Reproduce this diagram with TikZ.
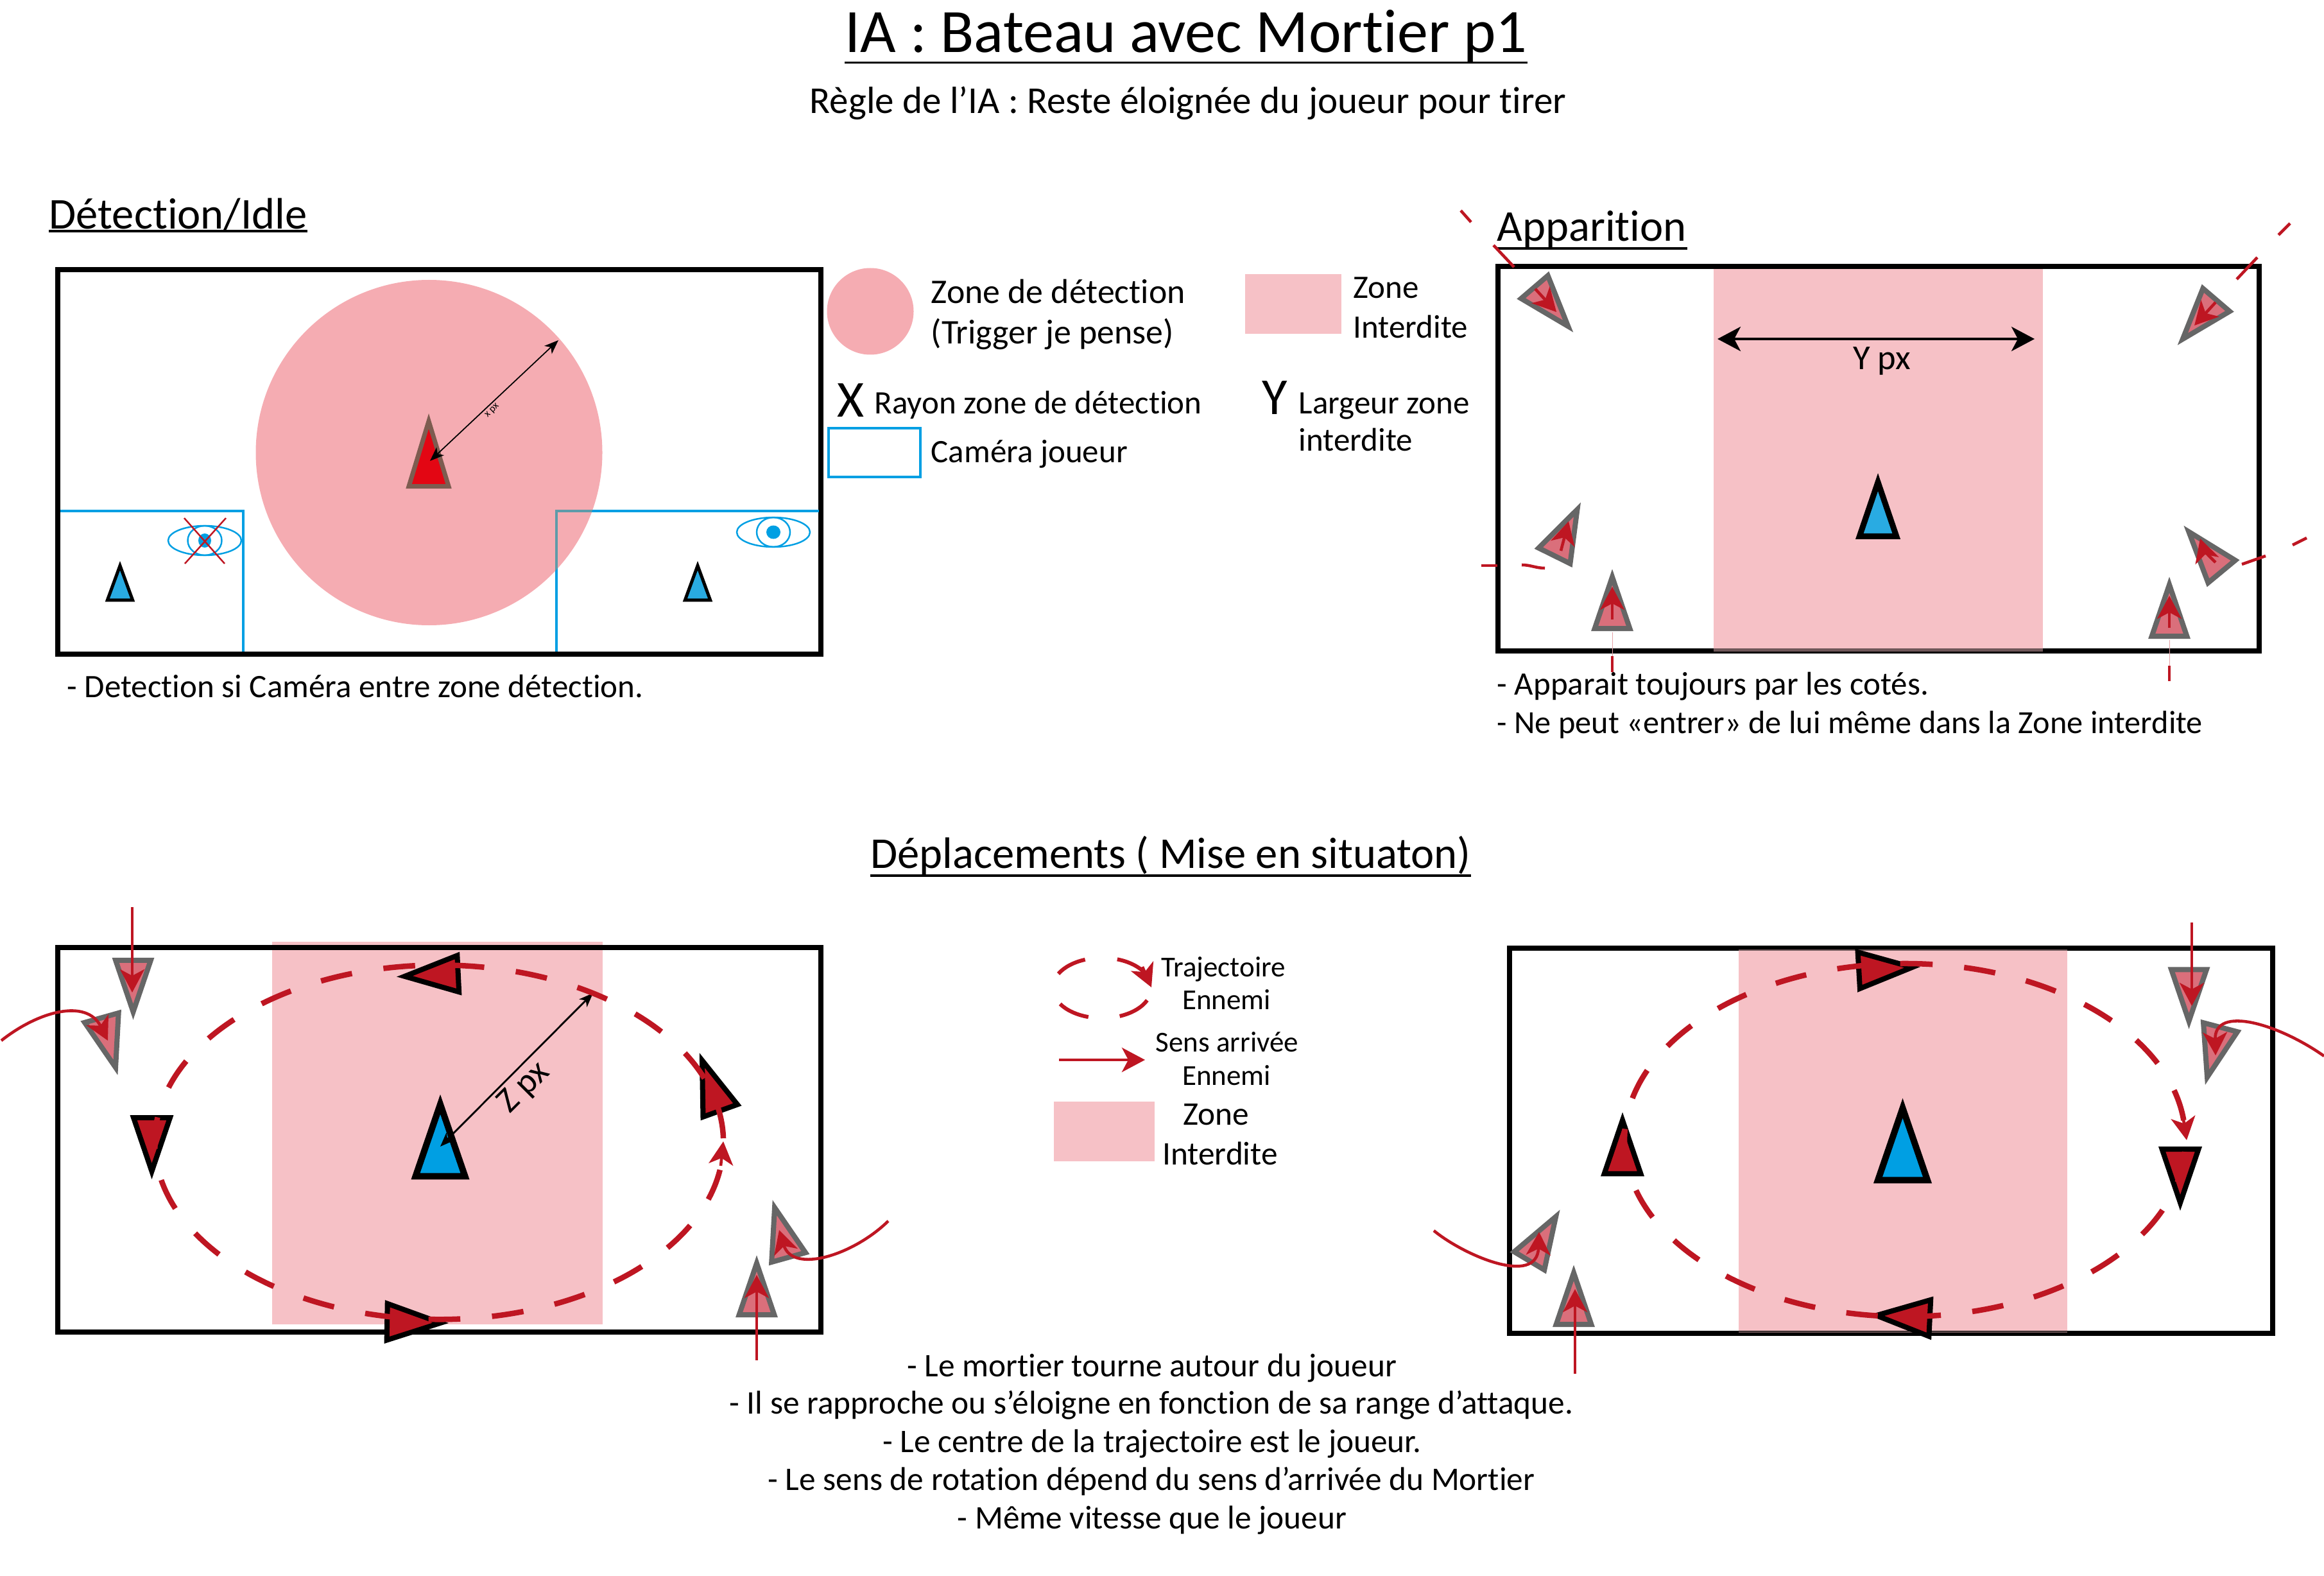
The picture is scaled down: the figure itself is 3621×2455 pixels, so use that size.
\documentclass[tikz,border=0pt]{standalone}
\usepackage{fontspec}
\setmainfont[Ligatures=NoCommon]{Carlito}
\usepackage{tikz}
\usetikzlibrary{arrows.meta}
\usepackage{xcolor}

\definecolor{rouge}{HTML}{BE1622}
\definecolor{rougevif}{HTML}{E30613}
\definecolor{cyan}{HTML}{009FE3}
\definecolor{bleu}{HTML}{29ABE2}
\definecolor{rose}{HTML}{F6C1C6}
\definecolor{rosefort}{HTML}{F5ACB2}
\definecolor{fantomefond}{HTML}{DA6F7B}

\tikzset{
  texte/.style={inner sep=0pt,anchor=mid west,yshift=-2.5pt,font=\fontsize{14.5}{18}\selectfont},
  grand/.style={font=\fontsize{15.3}{18}\selectfont},
  centre/.style={inner sep=0pt,anchor=mid,yshift=-2.5pt,font=\fontsize{14.6}{18}\selectfont},
  section/.style={inner sep=0pt,anchor=mid west,yshift=-4.5pt,font=\fontsize{19.5}{24}\selectfont},
  legende/.style={inner sep=0pt,anchor=mid,yshift=-1.5pt,font=\fontsize{12.8}{15}\selectfont},
  souligne/.style={line width=1pt},
  cadre/.style={draw=black,line width=8*.2845pt},
  interdit/.style={fill=rose},
  camera/.style={draw=cyan,line width=.9pt},
  oeil/.style={draw=cyan,line width=.7pt},
  croix/.style={draw=rouge,line width=.7pt},
  trajet/.style={draw=rouge,line width=8.5*.2845pt,dash pattern=on 14.1pt off 14.1pt},
  petitarc/.style={draw=rouge,line width=6*.2845pt},
  fleche/.style={draw=rouge,line width=1.3pt,-{Stealth[length=.36cm,width=.38cm,inset=.1cm]}},
  morceau/.style={draw=rouge,line width=1.3pt},
  fantome/.style={draw=black!60,fill=fantomefond,line width=8*.2845pt,xscale=27.4,yscale=40.4},
  ennemi/.style={draw=black,fill=rouge,line width=8*.2845pt,xscale=28.4,yscale=41.9},
  joueur/.style={draw=black,fill=cyan,line width=10*.2845pt,xscale=38.5,yscale=56.3},
  joueurmoyen/.style={draw=black,fill=bleu,line width=9*.2845pt,xscale=28.7,yscale=42.3},
  joueurpetit/.style={draw=black,fill=bleu,line width=5*.2845pt,xscale=19.7,yscale=27},
  mortier/.style={draw={rgb,255:red,125;green,92;blue,80},fill=rougevif,line width=7*.2845pt,xscale=31,yscale=51},
  mesure/.style={draw=black,line width=.5pt,{Stealth[length=.22cm,width=.17cm,inset=.06cm]}-{Stealth[length=.22cm,width=.17cm,inset=.06cm]}}
}

% triangle : style, x, y, rotation
\newcommand{\nef}[4]{\draw[shift={(#2,#3)},rotate=#4,#1] (-1,1.07)--(0,-.92)--(1,1.07)--cycle;}

\begin{document}
\begin{tikzpicture}[x=.01cm,y=-.01cm]
        \useasboundingbox (0,0) rectangle (3621,2455);

        %------------------
        % Titres
        %------------------
        \node[inner sep=0pt,yshift=-1.5pt,font=\fontsize{27.3}{32}\selectfont] (titre) at (1848,51) {IA : Bateau avec Mortier p1};
        \draw[souligne] (titre.south west)--(titre.south east);
        \node[centre,font=\fontsize{16.8}{20}\selectfont] (regle) at (1851,159) {Règle de l’IA : Reste éloignée du joueur pour tirer};
        \node[section] (detection) at (76,332) {Détection/Idle};
        \draw[souligne] (detection.south west)--(detection.south east);
        \node[section] (apparition) at (2332,351) {Apparition};
        \draw[souligne] (apparition.south west)--(apparition.south east);
        \node[centre,yshift=-2pt,font=\fontsize{19.5}{24}\selectfont] (deplacements) at (1824,1328) {Déplacements ( Mise en situaton)};
        \draw[souligne] (deplacements.south west)--(deplacements.south east);

        %------------------
        % Détection
        %------------------
        \draw[cadre] (90,420) rectangle (1279,1019);
        \fill[rosefort] (668.5,705) ellipse (270 and 269);
        \draw[camera] (94,796)--(379,796)--(379,1015);
        \draw[camera] (867,1015)--(867,796)--(1276,796);
        \begin{scope}
          \clip (668.5,705) ellipse (270 and 269);
          \draw[draw={rgb,255:red,94;green,155;blue,169},line width=.9pt] (867,1015)--(867,796)--(1276,796);
        \end{scope}
        \nef{mortier}{668}{703}{0}
        \draw[mesure] (670,718)--(870,530);
        \node[inner sep=0pt,rotate=45,font=\fontsize{4.5}{5}\selectfont] (xpx) at (767,640) {x px};
        \nef{joueurpetit}{187}{906}{0}
        \nef{joueurpetit}{1087}{906}{0}

        % oeil barré
        \draw[oeil] (319,842) ellipse (57 and 23);
        \draw[oeil] (319,842) ellipse (26.5 and 23);
        \fill[cyan] (319,842) ellipse (10 and 11);
        \draw[croix] (287,807)--(350,878);
        \draw[croix] (352,807)--(288,878);

        % oeil ouvert
        \draw[oeil] (1205,829) ellipse (57 and 23);
        \draw[oeil] (1205,829) ellipse (26 and 23);
        \fill[cyan] (1205,829) ellipse (11 and 10.5);

        \node[texte] (tdetect) at (104,1069) {- Detection si Caméra entre zone détection.};

        %------------------
        % Légende haut
        %------------------
        \fill[rosefort] (1356,485) circle (67.5);
        \node[texte,grand] (zonea) at (1450,455) {Zone de détection};
        \node[texte,grand] (zoneb) at (1450,518) {(Trigger je pense)};
        \fill[rose] (1940,427) rectangle (2090,520);
        \node[texte] (zonec) at (2108,447) {Zone};
        \node[texte] (zoned) at (2108,509) {Interdite};
        \node[inner sep=0pt,anchor=mid,yshift=-2.5pt,font=\fontsize{23}{26}\selectfont] (lettrex) at (1325,632) {X};
        \node[texte] (rayon) at (1362,627) {Rayon zone de détection};
        \draw[camera] (1291,667) rectangle (1434,743);
        \node[texte] (camtexte) at (1450,703) {Caméra joueur};
        \node[inner sep=0pt,anchor=mid,yshift=-2.5pt,font=\fontsize{23}{26}\selectfont] (lettrey) at (1986,628) {Y};
        \node[texte] (largeura) at (2023,627) {Largeur zone};
        \node[texte] (largeurb) at (2023,685) {interdite};

        %------------------
        % Apparition
        %------------------
        \fill[interdit] (2669.5,418) rectangle (3183,1015);
        \draw[cadre] (2334,415) rectangle (3520,1014);
        \fill[black!55!rose] (2669.5,1010) rectangle (3183,1015);
        \nef{joueurmoyen}{2926}{790}{0}
        \draw[draw=black,line width=4*.2845pt,{Stealth[length=.36cm,width=.38cm,inset=.1cm]}-{Stealth[length=.36cm,width=.38cm,inset=.1cm]}] (2676,528)--(3170,528);
        \node[inner sep=0pt,yshift=-1.5pt,font=\fontsize{15.5}{18}\selectfont] (ypx) at (2932,557) {Y px};

        \nef{fantome}{2419}{480}{-139.4}
        \nef{fantome}{3425}{500}{139.4}
        \nef{fantome}{2441}{827}{-26.3}
        \nef{fantome}{2512}{936}{0}
        \nef{fantome}{3434}{857}{39.6}
        \nef{fantome}{3380}{948}{0}

        % haut gauche
        \draw[morceau] (2276,328)--(2292,346);
        \draw[morceau] (2327,382)--(2359,416);
        \draw[fleche] (2392,450)--(2425,486);
        % haut droite
        \draw[morceau] (3568,348)--(3550,366);
        \draw[morceau] (3517,401)--(3485,435);
        \draw[fleche] (3452,471)--(3419,507);
        % gauche
        \draw[morceau] (2308,881)--(2333,881);
        \draw[morceau] (2371,880) .. controls (2385,880) and (2393,885) .. (2407,885);
        \draw[fleche] (2432,858)--(2444,812);
        % droite
        \draw[morceau] (3594,838)--(3572,849);
        \draw[morceau] (3530,866)--(3493,879);
        \draw[fleche] (3452,876) .. controls (3440,865) and (3433,855) .. (3428,839);
        % bas
        \draw[morceau] (2512,1022)--(2512,1047);
        \draw[draw=rouge!40,line width=.2pt] (2512,985)--(2512,1022);
        \draw[fleche] (2512,965)--(2512,914);
        \draw[morceau] (3380,1037)--(3380,1061);
        \draw[draw=rouge!40,line width=.2pt] (3380,997)--(3380,1037);
        \draw[fleche] (3380,978)--(3380,928);

        \node[texte] (tappa) at (2332,1065) {- Apparait toujours par les cotés.};
        \node[texte,font=\fontsize{14.3}{18}\selectfont] (tappb) at (2332,1125) {- Ne peut «entrer» de lui même dans la Zone interdite};

        %------------------
        % Déplacements gauche
        %------------------
        \fill[interdit] (424,1467) rectangle (938.5,2063);
        \draw[cadre] (90,1475.5) rectangle (1279,2075);
        \nef{joueur}{686}{1772}{0}
        \draw[mesure,line width=.8pt] (686,1786)--(924,1547);
        \node[inner sep=0pt,rotate=45,font=\fontsize{15.5}{18}\selectfont] (zpx) at (817,1695) {Z px};

        \nef{ennemi}{669}{1519}{92.8}
        \nef{ennemi}{1107}{1688}{19.8}
        \nef{ennemi}{236.5}{1786}{180}
        \nef{ennemi}{648}{2060}{-91.1}
        \draw[trajet] (705,1503.6) arc[start angle=-87.3,end angle=272.7,x radius=443,y radius=276];
        \draw[fleche] (1123,1816)--(1127,1778);

        \nef{fantome}{207.5}{1539}{180}
        \nef{fantome}{170}{1627}{-164.3}
        \nef{fantome}{1217}{1917}{15.6}
        \nef{fantome}{1179}{2005}{0}
        \draw[fleche] (206,1413)--(206,1546);
        \draw[fleche] (2,1621) .. controls (60,1575) and (135,1555) .. (168,1621);
        \draw[fleche] (1384,1902) .. controls (1330,1955) and (1235,1985) .. (1214,1916);
        \draw[fleche] (1179,2119)--(1179,1986);

        %------------------
        % Légende milieu
        %------------------
        \draw[petitarc] (1717,1539)+(-152:77 and 47) arc[start angle=-152,end angle=-110,x radius=77,y radius=47];
        \draw[petitarc] (1717,1539)+(-72:77 and 47) arc[start angle=-72,end angle=-22,x radius=77,y radius=47];
        \draw[fleche] (1780,1506)--(1794,1538);
        \draw[petitarc] (1717,1539)+(106:77 and 47) arc[start angle=106,end angle=148,x radius=77,y radius=47];
        \draw[petitarc] (1717,1539)+(24:77 and 47) arc[start angle=24,end angle=69,x radius=77,y radius=47];
        \node[legende] (traj) at (1906,1508) {Trajectoire};
        \node[legende] (enna) at (1911,1559) {Ennemi};
        \draw[fleche] (1650,1651)--(1784,1651);
        \node[legende] (sens) at (1912,1625) {Sens arrivée};
        \node[legende] (ennb) at (1911,1677) {Ennemi};
        \fill[rose] (1642,1716) rectangle (1799,1809);
        \node[centre] (zonee) at (1895,1735) {Zone};
        \node[centre] (zonef) at (1901,1797) {Interdite};

        %------------------
        % Déplacements droite
        %------------------
        \fill[interdit] (2709,1479) rectangle (3221,2075.5);
        \draw[cadre] (2352,1477) rectangle (3541,2077);
        \fill[black!55!rose] (2709,1479) rectangle (3221,1481);
        \fill[black!55!rose] (2709,2073.5) rectangle (3221,2075.5);
        \nef{joueur}{2964.5}{1778}{0}

        \nef{ennemi}{2941}{1509}{-86.7}
        \nef{ennemi}{3397}{1835}{180}
        \nef{ennemi}{2528}{1783.5}{0}
        \nef{ennemi}{2962}{2051}{87.2}
        \draw[trajet,dash pattern=on 14pt off 14pt] (2962,1501) arc[start angle=-90.8,end angle=269.2,x radius=437,y radius=275];
        \draw[fleche] (3402,1744)--(3407,1776);

        \nef{fantome}{3410.5}{1553.5}{180}
        \nef{fantome}{3448.5}{1642}{165.2}
        \nef{fantome}{2405}{1927}{-31}
        \nef{fantome}{2452}{2020}{0}
        \draw[fleche] (3415,1437)--(3415,1567);
        \draw[fleche] (3621,1645) .. controls (3550,1595) and (3450,1565) .. (3452,1644);
        \draw[fleche] (2234,1917) .. controls (2280,1955) and (2395,2005) .. (2398,1919);
        \draw[fleche] (2454,2140)--(2454,2008);

        %------------------
        % Texte bas
        %------------------
        \node[centre] (basa) at (1795,2127) {- Le mortier tourne autour du joueur};
        \node[centre] (basb) at (1794,2185) {- Il se rapproche ou s’éloigne en fonction de sa range d’attaque.};
        \node[centre] (basc) at (1795,2245) {- Le centre de la trajectoire est le joueur.};
        \node[centre] (basd) at (1794,2304) {- Le sens de rotation dépend du sens d’arrivée du Mortier};
        \node[centre] (base) at (1795,2364) {- Même vitesse que le joueur};
      \end{tikzpicture}
\end{document}
